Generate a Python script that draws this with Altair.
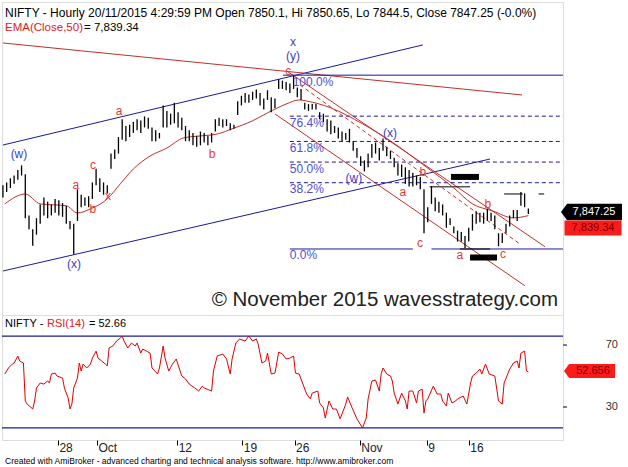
import altair as alt
import pandas as pd

FONT = "Arial"

# ---------------- price bars (hourly bar index, every 2nd bar) ----------------
bar_idx = list(range(0, 283, 2))
bar_hi = [7950, 7960, 7975, 7985, 8005, 8022, 7990, 7840, 7790, 7830,
          7880, 7905, 7890, 7880, 7900, 7895, 7885, 7875, 7820, 7810,
          7935, 7915, 7905, 7910, 7960, 8010, 7975, 7960, 7950, 8065,
          8080, 8125, 8190, 8165, 8170, 8180, 8190, 8185, 8200, 8195,
          8160, 8150, 8140, 8240, 8220, 8210, 8250, 8215, 8195, 8165,
          8150, 8140, 8130, 8145, 8140, 8130, 8140, 8190, 8195, 8190,
          8190, 8175, 8170, 8255, 8275, 8285, 8280, 8290, 8298, 8285,
          8265, 8295, 8270, 8265, 8335, 8330, 8325, 8320, 8348, 8305,
          8300, 8250, 8245, 8245, 8245, 8215, 8210, 8190, 8185, 8165,
          8160, 8145, 8140, 8155, 8110, 8085, 8055, 8040, 8065, 8100,
          8105, 8085, 8120, 8090, 8075, 8050, 8030, 8025, 8015, 8005,
          7995, 7985, 7980, 7935, 7870, 7947, 7905, 7890, 7880, 7850,
          7830, 7800, 7785, 7780, 7765, 7795, 7845, 7855, 7850, 7850,
          7865, 7850, 7840, 7775, 7775, 7810, 7840, 7860, 7860, 7925,
          7920, 7865]
bar_lo = [7905, 7925, 7940, 7955, 7970, 7985, 7830, 7790, 7730, 7770,
          7810, 7840, 7830, 7840, 7850, 7840, 7835, 7810, 7790, 7700,
          7820, 7870, 7875, 7870, 7900, 7950, 7925, 7915, 7920, 8010,
          8045, 8065, 8115, 8110, 8125, 8140, 8150, 8140, 8160, 8155,
          8110, 8110, 8120, 8160, 8160, 8170, 8175, 8160, 8150, 8110,
          8110, 8095, 8090, 8095, 8105, 8095, 8105, 8145, 8165, 8160,
          8165, 8150, 8155, 8205, 8240, 8250, 8250, 8260, 8265, 8240,
          8225, 8260, 8215, 8230, 8300, 8300, 8295, 8285, 8300, 8270,
          8260, 8225, 8220, 8225, 8225, 8190, 8180, 8145, 8135, 8140,
          8120, 8110, 8115, 8105, 8075, 8050, 8020, 8000, 8015, 8050,
          8065, 8040, 8075, 8055, 8045, 8015, 7985, 7980, 7955, 7945,
          7945, 7950, 7935, 7775, 7815, 7882, 7855, 7850, 7840, 7795,
          7805, 7775, 7745, 7745, 7722, 7745, 7785, 7810, 7815, 7810,
          7820, 7820, 7790, 7728, 7740, 7775, 7800, 7830, 7820, 7875,
          7870, 7845]

# ---------------- EMA(50) ----------------
ema_idx = [1, 12, 20, 34, 40, 47, 56, 63, 70, 79, 88, 97, 106, 115, 123, 134,
           142, 152, 159, 163, 176, 193, 208, 225, 242, 252, 263, 274, 282]
ema_val = [7882, 7918, 7882, 7875, 7849, 7864, 7900, 7955, 8009, 8056, 8085,
           8122, 8129, 8136, 8155, 8184, 8213, 8245, 8260, 8256, 8231, 8173,
           8111, 8027, 7940, 7882, 7856, 7831, 7839.34]

# ---------------- RSI(14) ----------------
rsi_idx = [1, 3, 5, 6, 8, 9, 11, 12, 13, 16, 17, 18, 20, 22, 24, 25, 26, 28, 29, 32,
           33, 35, 36, 37, 38, 40, 41, 42, 43, 45, 47, 48, 50, 51, 53, 55, 56, 57, 59, 61,
           63, 64, 65, 67, 69, 71, 72, 74, 75, 77, 79, 80, 83, 84, 86, 87, 89, 91, 93, 96,
           98, 100, 103, 105, 107, 108, 112, 113, 115, 118, 120, 122, 123, 125, 127, 130, 132, 134, 136, 137,
           139, 141, 142, 144, 146, 148, 150, 152, 154, 156, 157, 159, 161, 163, 165, 166, 169, 170, 172, 173,
           175, 177, 179, 181, 184, 185, 187, 190, 193, 195, 196, 198, 200, 202, 203, 204, 206, 208, 209, 210,
           212, 214, 216, 217, 218, 220, 222, 223, 225, 226, 227, 228, 231, 233, 235, 236, 238, 239, 241, 243,
           244, 247, 249, 251, 252, 254, 256, 257, 259, 261, 264, 266, 268, 269, 272, 274, 276, 277, 278, 280,
           281, 282]
rsi_val = [51.3, 55.2, 57.7, 58.4, 62.9, 59.7, 58.4, 33.9, 31.9, 28.7, 33.9, 42.3, 45.5, 44.8, 46.8, 45.5, 51.3, 51.9, 50.0, 48.7,
           42.3, 35.8, 28.7, 31.9, 42.3, 48.7, 58.4, 53.2, 57.7, 55.2, 57.7, 61.6, 66.1, 61.6, 59.7, 57.7, 56.5, 68.1, 69.4, 72.6,
           74.5, 75.8, 72.6, 68.1, 71.3, 69.4, 71.3, 64.8, 67.4, 66.1, 64.8, 55.2, 51.3, 55.2, 69.4, 61.6, 53.2, 57.7, 61.0, 50.0,
           48.1, 44.8, 42.3, 40.3, 43.5, 42.3, 40.3, 53.2, 62.9, 64.2, 61.0, 51.3, 61.0, 71.3, 73.9, 72.6, 75.8, 72.6, 73.9, 70.6,
           58.4, 59.7, 64.8, 51.3, 51.9, 65.5, 64.2, 61.0, 61.6, 62.9, 51.9, 51.3, 44.8, 38.4, 35.2, 39.0, 40.3, 32.6, 29.4, 22.9,
           33.9, 28.7, 28.7, 22.3, 31.9, 36.5, 30.6, 22.3, 16.5, 22.9, 35.2, 46.8, 47.4, 40.3, 51.3, 55.2, 51.3, 50.0, 46.8, 39.0,
           31.9, 39.0, 33.9, 28.7, 40.3, 40.3, 32.6, 40.3, 41.6, 26.1, 33.9, 35.2, 43.5, 38.4, 38.4, 33.9, 30.6, 39.0, 32.6, 33.9,
           35.2, 37.1, 31.9, 45.5, 50.0, 51.9, 54.5, 51.3, 57.7, 51.3, 50.0, 33.9, 31.9, 45.5, 54.5, 58.4, 59.7, 55.2, 64.8, 66.1,
           53.2, 52.66]
rsi_levels = [75.8, 16.5]

# ---------------- drawn trend lines (bar index, price) ----------------
trend_x1 = [0, 0, 0, 153, 146, 150.3, 154, 230, 229, 269, 287.5, 245.3]
trend_y1 = [8096, 7638, 8467, 8362, 8209, 8350, 7718, 7718, 7944, 7918, 7918, 7718]
trend_x2 = [225.4, 261.4, 278.6, 291, 280.2, 300.6, 220, 300.6, 250.7, 279, 290.5, 261.4]
trend_y2 = [8460, 8045, 8278, 7726, 7584, 8350, 7718, 7718, 7944, 7918, 7918, 7718]
trend_kind = ["blue", "blue", "red", "red", "red", "blue", "blue", "blue",
              "black", "black", "black", "black"]

dash_x1 = [154, 154, 154, 154, 159.4]
dash_y1 = [8201, 8109, 8034, 7959, 8315]
dash_x2 = [300.6, 300.6, 300.6, 300.6, 277.5]
dash_y2 = [8201, 8109, 8034, 7959, 7736]
dash_kind = ["blue", "blue", "blue", "blue", "red"]

thick_x1 = [240.5, 250.7]
thick_x2 = [255.5, 265.2]
thick_y = [7980, 7687]

fib_text = ["100.0%", "76.4%", "61.8%", "50.0%", "38.2%", "0.0%"]
fib_x = [155.5, 154, 154, 154, 154, 154]
fib_y = [8325, 8176, 8085, 8009, 7936, 7696]

wave_text = ["(w)", "(x)", "x", "(y)", "(x)", "(w)",
             "a", "c", "a", "b", "x", "b", "c", "b", "a", "c", "a", "b", "c"]
wave_x = [8.6, 38.1, 155.7, 155.7, 207.7, 188.4,
          62.3, 48.3, 39.2, 48.3, 56.4, 112.2, 153.2, 225.4, 214.7, 223.8, 245.3, 260.3, 268.4]
wave_y = [8064, 7664, 8470, 8420, 8140, 7976,
          8220, 8024, 7951, 7864, 7911, 8064, 8364, 7998, 7925, 7740, 7696, 7882, 7700]
wave_kind = ["blue"] * 6 + ["red"] * 13

price_ticks = [7500, 7600, 7700, 7900, 8000, 8100, 8200, 8300, 8400, 8500]
rsi_ticks = [30, 70]
date_pos = [29.5, 50.5, 93.5, 128.5, 156.5, 191.5, 227.5, 250]
date_lab = ["28", "Oct", "12", "19", "26", "Nov", "9", "16"]

# ---------------- styling ----------------
COL = {"blue": "#1a1a96", "red": "#c0302a", "black": "#000000"}
LABCOL = {"blue": "#3c3cc8", "red": "#e83a30"}

xs = alt.Scale(domain=[-0.5, 300.6], nice=False, zero=False)
ys = alt.Scale(domain=[7478, 8616], nice=False, zero=False)
rs = alt.Scale(domain=[8.7, 89.4], nice=False, zero=False)

def X(f):
    return alt.X(f, scale=xs, axis=None)

def Y(f):
    return alt.Y(f, scale=ys, axis=None)

def R(f):
    return alt.Y(f, scale=rs, axis=None)

one = pd.DataFrame({"a": [0]})

def label(text, x, y, color="black", size=11, align="left", font=FONT, baseline="middle"):
    return alt.Chart(one).mark_text(text=text, align=align, baseline=baseline, font=font,
                                    fontSize=size, color=color).encode(
        x=alt.value(x), y=alt.value(y))

# ---- price pane ----
trend_df = pd.DataFrame({"x": trend_x1, "y": trend_y1, "x2": trend_x2, "y2": trend_y2,
                         "c": [COL[k] for k in trend_kind]})
trend = alt.Chart(trend_df).mark_rule(strokeWidth=1, clip=True).encode(
    x=X("x:Q"), x2="x2:Q", y=Y("y:Q"), y2="y2:Q", color=alt.Color("c:N", scale=None))

dash_df = pd.DataFrame({"x": dash_x1, "y": dash_y1, "x2": dash_x2, "y2": dash_y2,
                        "c": [COL[k] for k in dash_kind]})
dashed = alt.Chart(dash_df).mark_rule(strokeWidth=1, strokeDash=[4, 3], clip=True).encode(
    x=X("x:Q"), x2="x2:Q", y=Y("y:Q"), y2="y2:Q", color=alt.Color("c:N", scale=None))

thick_df = pd.DataFrame({"x": thick_x1, "x2": thick_x2, "y": thick_y})
thick = alt.Chart(thick_df).mark_rule(strokeWidth=6, color="black", strokeCap="butt").encode(
    x=X("x:Q"), x2="x2:Q", y=Y("y:Q"))

ema_df = pd.DataFrame({"i": ema_idx, "v": ema_val})
ema = alt.Chart(ema_df).mark_line(color="#c0302a", strokeWidth=1, interpolate="monotone", clip=True).encode(
    x=X("i:Q"), y=Y("v:Q"))

bars_df = pd.DataFrame({"i": bar_idx, "hi": bar_hi, "lo": bar_lo})
bars = alt.Chart(bars_df).mark_rule(color="black", strokeWidth=1.3, clip=True).encode(
    x=X("i:Q"),
    y=alt.Y("hi:Q", scale=ys, title=None,
            axis=alt.Axis(orient="right", values=price_ticks, format=",d", tickSize=4,
                          tickColor="black", labelAlign="right", labelPadding=51,
                          labelFontSize=11, labelFont=FONT, labelColor="#333333",
                          domain=False, grid=False, labelBaseline="middle")),
    y2="lo:Q")

wave_df = pd.DataFrame({"t": wave_text, "x": wave_x, "y": wave_y,
                        "c": [LABCOL[k] for k in wave_kind]})
waves = alt.Chart(wave_df).mark_text(font=FONT, fontSize=12, align="center", baseline="middle").encode(
    x=X("x:Q"), y=Y("y:Q"), text="t:N", color=alt.Color("c:N", scale=None))

fib_df = pd.DataFrame({"t": fib_text, "x": fib_x, "y": fib_y})
fibs = alt.Chart(fib_df).mark_text(font=FONT, fontSize=12, align="left", baseline="middle",
                                   color="#5050cc").encode(
    x=X("x:Q"), y=Y("y:Q"), text="t:N")

tag_path = "M-1,0L-0.8,-0.27L1,-0.27L1,0.27L-0.8,0.27Z"
rect_path = "M-1,-0.26L1,-0.26L1,0.26L-1,0.26Z"

def tag(path, x, y, size, fill):
    return alt.Chart(one).mark_point(shape=path, filled=True, fill=fill, stroke=fill,
                                     strokeWidth=0, size=size, opacity=1).encode(
        x=alt.value(x), y=alt.value(y))

price_layers = [
    trend, dashed, thick, ema, bars, waves, fibs,
    label("NIFTY - Hourly 20/11/2015 4:29:59 PM Open 7850.1, Hi 7850.65, Lo 7844.5, Close 7847.25 (-0.0%)",
          3, 11, size=12),
    label("EMA(Close,50)", 3, 26, color="#e02020", size=11.5),
    label("= 7,839.34", 82, 26, size=11.5),
    label("\u00a9 November 2015 wavesstrategy.com", 556, 298, color="#222222", size=20.5, align="right"),
    tag(tag_path, 589.5, 210, 3721, "#000000"),
    label("7,847.25", 592, 210, color="white", size=11, align="center"),
    tag(rect_path, 591, 226, 3249, "#ff1a1a"),
    label("7,839.34", 591, 226, color="#7a0000", size=11, align="center"),
]
price_chart = alt.layer(*price_layers).properties(width=561, height=313)

# ---- RSI pane ----
lab_expr = " : ".join(f"datum.value == {p} ? '{l}'" for p, l in zip(date_pos, date_lab)) + " : ''"

rsi_df = pd.DataFrame({"i": rsi_idx, "v": rsi_val})
rsi_line = alt.Chart(rsi_df).mark_line(color="#e00000", strokeWidth=1, clip=True).encode(
    x=alt.X("i:Q", scale=xs, title=None,
            axis=alt.Axis(values=date_pos, labelExpr=lab_expr, tickSize=5, tickColor="black",
                          labelAlign="left", labelOffset=1, labelPadding=2, labelBaseline="middle",
                          labelFontSize=12, labelFont=FONT, labelColor="#222222", labelOverlap=False,
                          labelFlush=False, domain=False, grid=False)),
    y=R("v:Q"))

lvl_df = pd.DataFrame({"v": rsi_levels})
levels = alt.Chart(lvl_df).mark_rule(color="#1a1a96", strokeWidth=1.3).encode(y=R("v:Q"))

rtick_df = pd.DataFrame({"v": rsi_ticks, "t": [str(v) for v in rsi_ticks]})
rsi_tick_marks = alt.Chart(rtick_df).mark_rule(color="black", strokeWidth=1).encode(
    x=alt.value(561), x2=alt.value(565), y=R("v:Q"))
rsi_tick_labels = alt.Chart(rtick_df).mark_text(align="right", baseline="middle", font=FONT,
                                                fontSize=11, color="#333333").encode(
    x=alt.value(616), y=R("v:Q"), text="t:N")

rsi_layers = [
    levels, rsi_line, rsi_tick_marks, rsi_tick_labels,
    label("NIFTY -", 3, 9, size=11),
    label("RSI(14)", 45, 9, color="#e02020", size=11),
    label("= 52.66", 87, 9, size=11),
    tag(tag_path, 587.5, 56, 2601, "#ff1a1a"),
    label("52.656", 591, 56, color="#7a0000", size=11, align="center"),
    label("Created with AmiBroker - advanced charting and technical analysis software. http://www.amibroker.com",
          3, 146, size=8.5),
]
rsi_chart = alt.layer(*rsi_layers).properties(width=561, height=125)

chart = alt.vconcat(price_chart, rsi_chart, spacing=0, bounds="flush").properties(
    padding={"left": 0, "top": 1, "right": 0, "bottom": 0}
).configure_view(stroke="#000000", strokeWidth=1).configure(background="white")

chart.save("out.html", embed_options={"renderer": "svg", "actions": False})
